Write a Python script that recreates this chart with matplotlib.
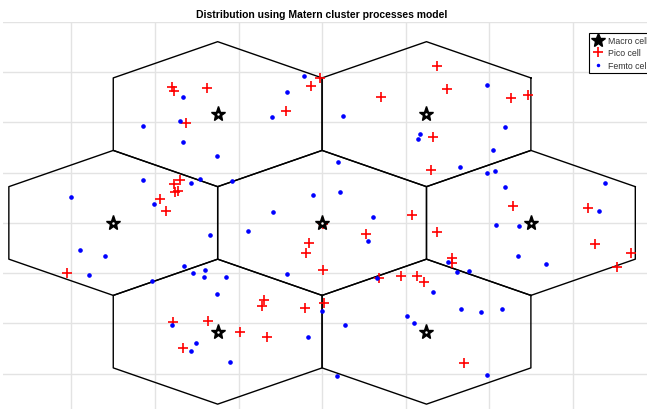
import matplotlib.pyplot as plt
import numpy as np

plt.rcParams['font.family'] = ['Liberation Sans', 'DejaVu Sans']

# inter-site distance 500, hexagon radius = 500/sqrt(3)
isd = 500.0
macro_x = [0, 500, -500, 250, -250, 250, -250]
macro_y = [0, 0, 0, 433, 433, -433, -433]

pico_x = [-359, -355, -275, -326, -86, -26, -6, -339, -355, -352, -346, -387, -374,
          274, 299, 142, 452, 492, 266, 261, 457, 636, -32, -38, 2, 5, -611, -140,
          -145, -40, -358, -272, -196, -132, -333, 3, 216, 275, 105, 653, 740, 707,
          311, 310, 137, 188, 228, 245, 340]
pico_y = [543, 526, 537, 397, 445, 547, 576, 169, 154, 122, 127, 94, 47,
          625, 533, 502, 497, 510, 344, 211, 67, 59, -80, -118, -186, -319, -200, -307,
          -329, -337, -396, -392, -433, -454, -497, -4, 32, -35, -43, -84, -120, -176,
          -141, -161, -218, -210, -210, -234, -557]

femto_x = [-333, -429, -341, -334, -252, -120, -85, -43, -429, -313, -293, -215, -601,
           -403, -22, 51, 235, 229, 396, 439, 410, 39, 331, 396, 414, 43, 439, 677,
           -117, -178, -269, -579, -519, -557, -408, -331, -308, -280, -283, -231, -83,
           -252, -359, -302, -313, -221, -33, 1, 121, 109, 417, 472, 664, 470, 536,
           301, 324, 352, 132, 266, 204, 219, 56, 332, 381, 431, 394, 35]
femto_y = [502, 386, 406, 324, 267, 420, 521, 584, 170, 157, 174, 167, 102,
           77, 112, 426, 356, 336, 549, 380, 292, 242, 224, 199, 207, 124, 142, 159,
           45, -32, -49, -106, -133, -206, -230, -171, -199, -187, -214, -214, -203,
           -284, -405, -479, -509, -553, -455, -349, 23, -71, -7, -13, 49, -130, -165,
           -154, -194, -191, -218, -275, -371, -398, -405, -343, -353, -344, -604, -608]

fig = plt.figure(figsize=(6.47, 4.10), dpi=100)
ax = fig.add_axes([3 / 647, 0, 644 / 647, 387 / 410])

R = isd / np.sqrt(3)
ang = np.deg2rad(np.arange(30, 391, 60))
for cx, cy in zip(macro_x, macro_y):
    ax.plot(cx + R * np.cos(ang), cy + R * np.sin(ang), color="black", lw=1.0, zorder=2)

ax.plot(macro_x, macro_y, linestyle="none", marker="*", ms=11, mfc="black", mec="black",
        mew=1.0, label="Macro cell", zorder=4)
# small white centre of the star
ax.plot(macro_x, macro_y, linestyle="none", marker="o", ms=1.8, mfc="white", mec="none",
        zorder=5)
ax.plot(pico_x, pico_y, linestyle="none", marker="+", ms=7, color="red", mew=1.2,
        label="Pico cell", zorder=3)
ax.plot(femto_x, femto_y, linestyle="none", marker="o", ms=2.3, color="blue", mec="blue",
        label="Femto cell", zorder=3)

ax.set_xlim(-764, 778)
ax.set_ylim(-741, 800)
ax.set_xticks(np.arange(-600, 601, 200))
ax.set_yticks(np.arange(-600, 801, 200))
ax.tick_params(length=0, labelbottom=False, labelleft=False)
ax.grid(True, color="#e3e3e3", lw=1.0)
ax.set_axisbelow(True)
for s in ax.spines.values():
    s.set_visible(False)

fig.text(322 / 647, 1 - 15 / 410, "Distribution using Matern cluster processes model",
         ha="center", va="center", fontsize=7.5, fontweight="bold")

leg = ax.legend(loc="upper left", bbox_to_anchor=(0.910, 0.972), fontsize=6.3, frameon=True,
                fancybox=False, framealpha=1, edgecolor="black", borderpad=0.35,
                handlelength=1.3, handletextpad=0.5, labelspacing=0.4, borderaxespad=0)
leg.get_frame().set_linewidth(0.8)
hs = leg.legend_handles
hs[0].set_markersize(10)
hs[2].set_markersize(1.5)
for t in leg.get_texts():
    t.set_color("#333333")

fig.savefig("out.png", dpi=100)
